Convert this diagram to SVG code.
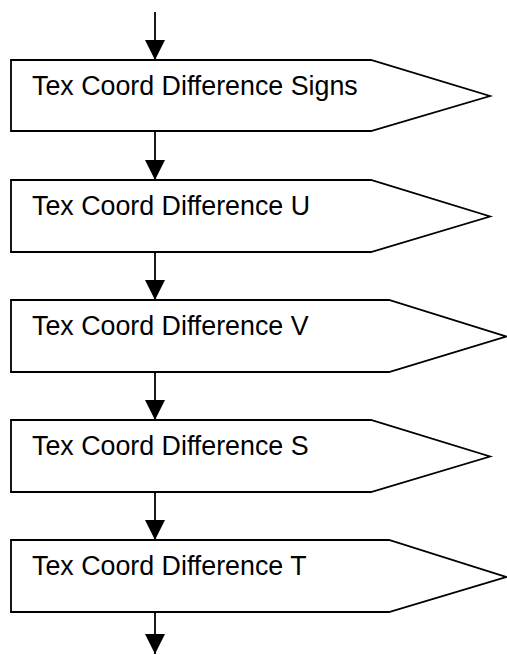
<svg xmlns="http://www.w3.org/2000/svg" width="507" height="655" viewBox="0 0 507 655">
<defs>
<style>
.box{fill:#fff;stroke:#000;stroke-width:1.8;stroke-linejoin:miter}
.lbl{font-family:"Liberation Sans",Arial,sans-serif;font-size:26.8px;fill:#000}
.conn line{stroke:#000;stroke-width:1.8}
</style>
<marker id="ah" markerWidth="20" markerHeight="20" refX="20" refY="10" orient="auto" markerUnits="userSpaceOnUse">
<path d="M0,0 L20,10 L0,20 Z" fill="#000"/>
</marker>
</defs>
<rect width="507" height="655" fill="#fff"/>
<g id="connectors" class="conn">
<line x1="155" y1="12" x2="155" y2="60" marker-end="url(#ah)"/>
<line x1="155" y1="131" x2="155" y2="180" marker-end="url(#ah)"/>
<line x1="155" y1="252" x2="155" y2="300" marker-end="url(#ah)"/>
<line x1="155" y1="372" x2="155" y2="420" marker-end="url(#ah)"/>
<line x1="155" y1="492" x2="155" y2="540" marker-end="url(#ah)"/>
<line x1="155" y1="612" x2="155" y2="654" marker-end="url(#ah)"/>
</g>
<g id="node1">
<polygon class="box" points="11,60 371,60 490,96 371,131 11,131"/>
<text class="lbl" x="32" y="95">Tex Coord Difference Signs</text>
</g>
<g id="node2">
<polygon class="box" points="11,180 371,180 490,216.5 371,252 11,252"/>
<text class="lbl" x="32" y="215">Tex Coord Difference U</text>
</g>
<g id="node3">
<polygon class="box" points="11,300 389,300 506,336.5 389,372 11,372"/>
<text class="lbl" x="32" y="335">Tex Coord Difference V</text>
</g>
<g id="node4">
<polygon class="box" points="11,420 371,420 490,456.5 371,492 11,492"/>
<text class="lbl" x="32" y="455">Tex Coord Difference S</text>
</g>
<g id="node5">
<polygon class="box" points="11,540 389,540 506,577 389,612 11,612"/>
<text class="lbl" x="32" y="575">Tex Coord Difference T</text>
</g>
</svg>
